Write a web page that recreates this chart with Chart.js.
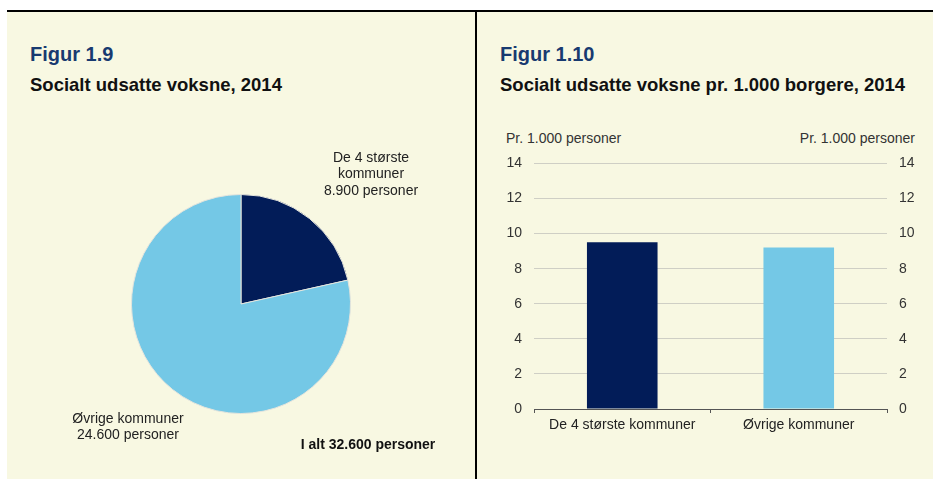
<!DOCTYPE html>
<html>
<head>
<meta charset="utf-8">
<script src="https://cdn.jsdelivr.net/npm/chart.js@4/dist/chart.umd.min.js"></script>
<style>
  body { margin: 0; width: 933px; height: 479px; background: #fff; position: relative; overflow: hidden;
         font-family: "Liberation Sans", Arial, sans-serif; }
  .abs { position: absolute; }
  #panel { left: 7px; top: 10px; width: 926px; height: 467px; background: #f8f8e2; border-top: 2px solid #000; }
  #divider { left: 475px; top: 10px; width: 2px; height: 469px; background: #000; }
  .fig { font-weight: bold; font-size: 20px; line-height: 20px; color: #183a70; top: 44px; }
  .sub { font-weight: bold; font-size: 18.5px; line-height: 18.5px; color: #111; top: 75.5px; white-space: nowrap; }
  .lbl { font-size: 14px; line-height: 16.6px; color: #222; text-align: center; width: 170px; }
  .unit { font-size: 14px; line-height: 16px; color: #333; top: 130px; white-space: nowrap; }
</style>
</head>
<body>
<div id="panel" class="abs"></div>
<div id="divider" class="abs"></div>

<div class="abs fig" style="left:30px">Figur 1.9</div>
<div class="abs sub" style="left:30px">Socialt udsatte voksne, 2014</div>
<div class="abs fig" style="left:500px">Figur 1.10</div>
<div class="abs sub" style="left:500px">Socialt udsatte voksne pr. 1.000 borgere, 2014</div>

<canvas id="pie" class="abs" width="220" height="220" style="left:131px;top:194px"></canvas>
<div id="lbl0" class="abs lbl" style="left:286px;top:148.5px"></div>
<div id="lbl1" class="abs lbl" style="left:43px;top:409.5px"></div>
<div id="total" class="abs lbl" style="left:283px;top:436px;font-weight:bold;color:#111"></div>

<div class="abs unit" style="left:506px">Pr. 1.000 personer</div>
<div class="abs unit" style="right:18px">Pr. 1.000 personer</div>
<canvas id="bar" class="abs" width="430" height="296" style="left:495px;top:143px"></canvas>

<script>
// Figur 1.9
const pieLabelLines = [["De 4 største", "kommuner"], ["Øvrige kommuner"]];
const piePersons = ["8.900", "24.600"];
const pieTotal = "32.600";
// andele aflæst fra udsnittenes vinkler
const pieShares = [21.5, 78.5];
const pieColors = ["#021c58", "#74c8e6"];

// Figur 1.10
const barCategories = ["De 4 største kommuner", "Øvrige kommuner"];
const barValues = [9.5, 9.2];
const barColors = ["#021c58", "#74c8e6"];
const yMax = 14;
const yStep = 2;

Chart.defaults.font.family = '"Liberation Sans", Arial, sans-serif';
Chart.defaults.font.size = 14;
Chart.defaults.color = "#333";

// Labels til lagkagen
pieLabelLines.forEach(function(lines, i) {
  document.getElementById("lbl" + i).innerHTML = lines.concat([piePersons[i] + " personer"]).join("<br>");
});
document.getElementById("total").textContent = "I alt " + pieTotal + " personer";

new Chart(document.getElementById("pie"), {
  type: "pie",
  data: {
    labels: pieLabelLines.map(function(l) { return l.join(" "); }),
    datasets: [{
      data: pieShares,
      backgroundColor: pieColors,
      borderColor: "#e4e4dc",
      borderWidth: 1
    }]
  },
  options: {
    responsive: false,
    animation: false,
    devicePixelRatio: 1,
    plugins: { legend: { display: false }, tooltip: { enabled: false } }
  }
});

// Søjlediagram med akse i begge sider
new Chart(document.getElementById("bar"), {
  type: "bar",
  data: {
    labels: barCategories,
    datasets: [{
      data: barValues,
      backgroundColor: barColors,
      barPercentage: 0.4,
      categoryPercentage: 1
    }]
  },
  options: {
    responsive: false,
    animation: false,
    devicePixelRatio: 1,
    layout: { padding: { top: 5, left: 0, right: 0, bottom: 0 } },
    plugins: { legend: { display: false }, tooltip: { enabled: false } },
    scales: {
      x: {
        grid: { offset: true, drawOnChartArea: false, drawTicks: true, tickLength: 4, color: "#555" },
        border: { color: "#555", width: 1 },
        ticks: { padding: 4, color: "#222", maxRotation: 0 },
        afterFit: function(scale) { scale.height = 30; }
      },
      y: {
        position: "left",
        min: 0, max: yMax,
        ticks: { stepSize: yStep, padding: 12, color: "#333" },
        grid: { color: "#cfcfc5", drawTicks: false },
        border: { display: false },
        afterFit: function(scale) { scale.width = 39; }
      },
      y2: {
        position: "right",
        min: 0, max: yMax,
        ticks: { stepSize: yStep, padding: 12, color: "#333" },
        grid: { display: false, drawTicks: false },
        border: { display: false },
        afterFit: function(scale) { scale.width = 38; }
      }
    }
  }
});
</script>
</body>
</html>
